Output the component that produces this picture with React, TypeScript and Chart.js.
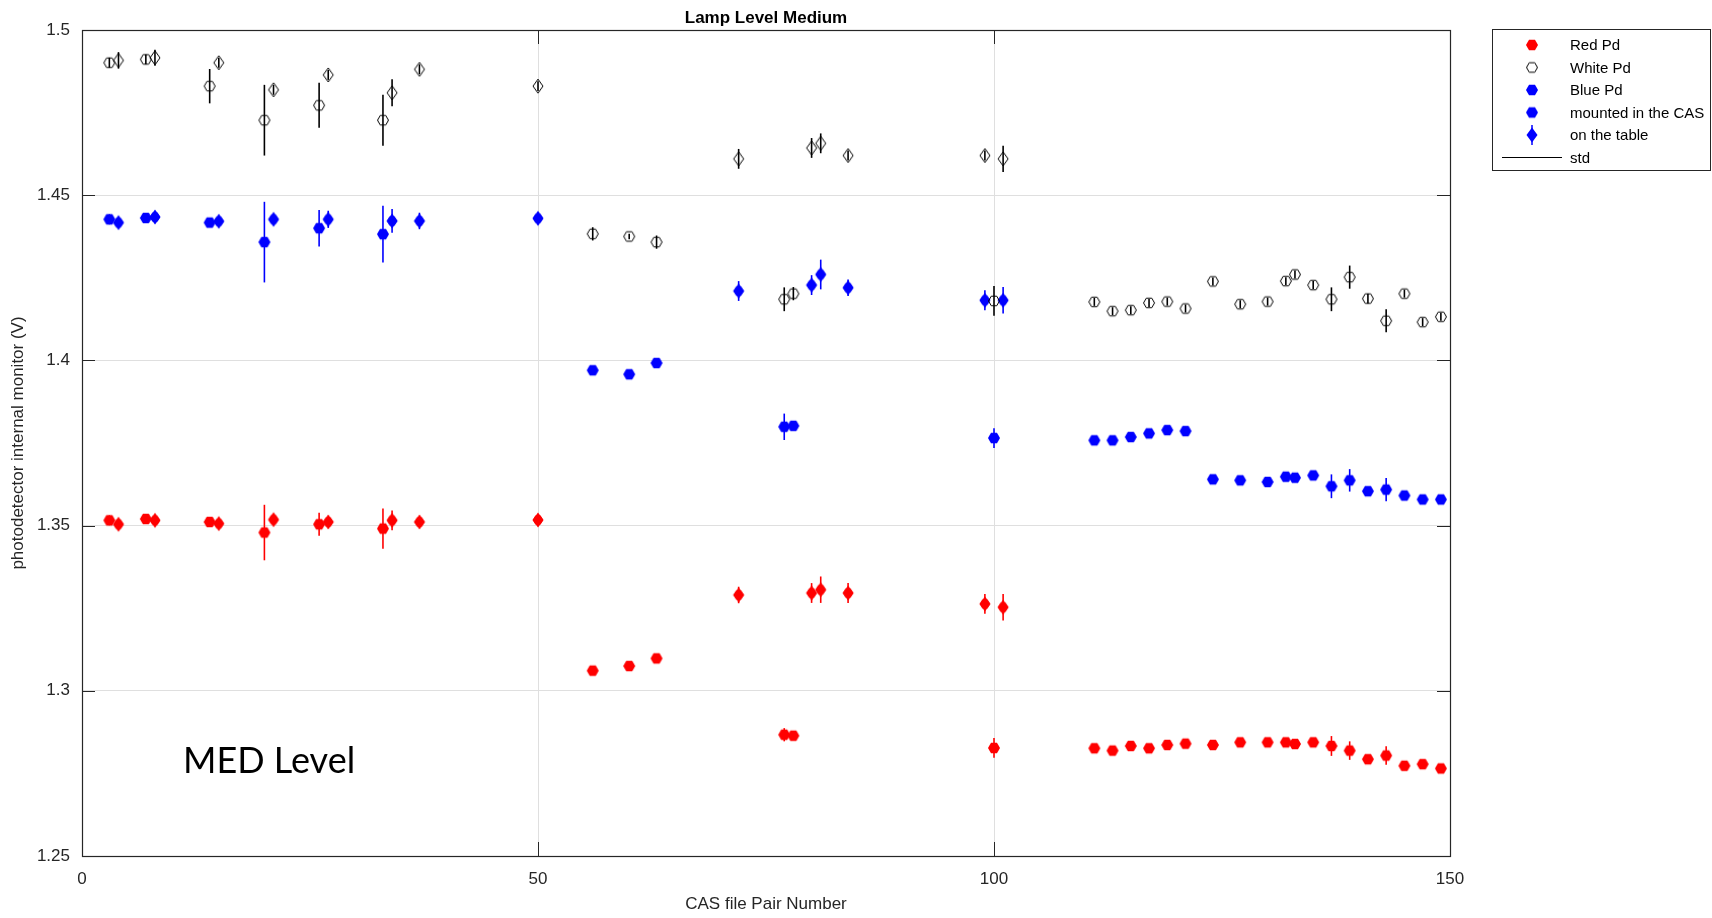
import React, { useEffect, useRef } from 'react';
import { Chart, registerables } from 'chart.js';

Chart.register(...registerables);

// ---------------- data ----------------
const pairNumbers = [
  3, 4, 7, 8, 14, 15, 20, 21, 26, 27, 33, 34, 37, 50, 56, 60, 63, 72, 77, 78, 80, 81, 84, 99, 100, 101,
  111, 113, 115, 117, 119, 121, 124, 127, 130, 132, 133, 135, 137, 139, 141, 143, 145, 147, 149,
];
const mountModes = [
  'CAS', 'table', 'CAS', 'table', 'CAS', 'table', 'CAS', 'table', 'CAS', 'table', 'CAS', 'table', 'table', 'table',
  'CAS', 'CAS', 'CAS', 'table', 'CAS', 'CAS', 'table', 'table', 'table', 'table', 'CAS', 'table',
  'CAS', 'CAS', 'CAS', 'CAS', 'CAS', 'CAS', 'CAS', 'CAS', 'CAS', 'CAS', 'CAS', 'CAS', 'CAS', 'CAS', 'CAS', 'CAS', 'CAS', 'CAS', 'CAS',
];
const redPd = [
  1.3516, 1.3504, 1.352, 1.3516, 1.3511, 1.3506, 1.3479, 1.3518, 1.3504, 1.3511, 1.3491, 1.3516, 1.3511, 1.3517,
  1.3061, 1.3075, 1.3098, 1.329, 1.2867, 1.2864, 1.3296, 1.3306, 1.3296, 1.3263, 1.2827, 1.3253,
  1.2826, 1.2819, 1.2833, 1.2826, 1.2836, 1.284, 1.2836, 1.2844, 1.2844, 1.2844, 1.2839, 1.2844, 1.2833, 1.2819,
  1.2793, 1.2804, 1.2773, 1.2778, 1.2765,
];
const redStd = [
  0.0015, 0.0015, 0.0015, 0.0015, 0.0012, 0.0012, 0.0084, 0.0015, 0.0035, 0.0015, 0.0061, 0.003, 0.0015, 0.0012,
  0.0008, 0.0008, 0.0008, 0.0025, 0.002, 0.0012, 0.003, 0.004, 0.003, 0.003, 0.003, 0.004,
  0.001, 0.001, 0.001, 0.001, 0.001, 0.001, 0.001, 0.001, 0.001, 0.001, 0.001, 0.001, 0.003, 0.0028,
  0.0012, 0.0028, 0.001, 0.001, 0.001,
];
const whitePd = [
  1.4901, 1.4908, 1.4911, 1.4916, 1.483, 1.4901, 1.4727, 1.4819, 1.4772, 1.4864, 1.4727, 1.481, 1.4881, 1.483,
  1.4383, 1.4375, 1.4358, 1.461, 1.4185, 1.4202, 1.4643, 1.4657, 1.462, 1.462, 1.418, 1.461,
  1.4177, 1.4149, 1.4152, 1.4174, 1.4178, 1.4157, 1.4239, 1.417, 1.4178, 1.424, 1.426, 1.4228, 1.4185, 1.4252,
  1.4187, 1.412, 1.4202, 1.4116, 1.4132,
];
const whiteStd = [
  0.0015, 0.0025, 0.0015, 0.0024, 0.0052, 0.0015, 0.0107, 0.0015, 0.0068, 0.0015, 0.0077, 0.0041, 0.0015, 0.0015,
  0.002, 0.0008, 0.002, 0.003, 0.0036, 0.002, 0.003, 0.003, 0.0015, 0.0015, 0.0045, 0.004,
  0.0012, 0.0012, 0.0012, 0.0012, 0.0012, 0.0012, 0.0012, 0.0012, 0.0012, 0.0012, 0.0012, 0.0012, 0.0036, 0.0035,
  0.0015, 0.0035, 0.0012, 0.0012, 0.0012,
];
const bluePd = [
  1.4427, 1.4417, 1.4431, 1.4434, 1.4417, 1.4421, 1.4358, 1.4427, 1.44, 1.4427, 1.4382, 1.4422, 1.4422, 1.443,
  1.397, 1.3958, 1.3992, 1.421, 1.3799, 1.3802, 1.4228, 1.426, 1.422, 1.4182, 1.3765, 1.4182,
  1.3758, 1.3758, 1.3768, 1.3779, 1.3789, 1.3786, 1.364, 1.3637, 1.3632, 1.3648, 1.3645, 1.3652, 1.3619, 1.3637,
  1.3604, 1.3609, 1.3591, 1.3579, 1.3579,
];
const blueStd = [
  0.0015, 0.0015, 0.0015, 0.0015, 0.0012, 0.0012, 0.0122, 0.0015, 0.0055, 0.0026, 0.0086, 0.0036, 0.0025, 0.0018,
  0.001, 0.001, 0.001, 0.003, 0.004, 0.0012, 0.003, 0.0045, 0.0025, 0.003, 0.003, 0.004,
  0.001, 0.001, 0.001, 0.001, 0.001, 0.001, 0.001, 0.001, 0.001, 0.001, 0.001, 0.001, 0.0036, 0.0034,
  0.0012, 0.0035, 0.001, 0.001, 0.001,
];
const xTickValues = [0, 50, 100, 150];
const yTickValues = [1.25, 1.3, 1.35, 1.4, 1.45, 1.5];
const legendLabels = ['Red Pd', 'White Pd', 'Blue Pd', 'mounted in the CAS', 'on the table', 'std'];
const chartTitle = 'Lamp Level Medium';
const xAxisTitle = 'CAS file Pair Number';
const yAxisTitle = 'photodetector internal monitor (V)';
const annotationText = 'MED Level';

// ---------------- styling ----------------
const FONT = '"Liberation Sans", Arial, Helvetica, sans-serif';
const AXIS_COLOR = '#262626';
const GRID_COLOR = '#dfdfdf';
const RED = '#ff0000';
const BLUE = '#0000ff';

type Kind = 'hex' | 'hexdiamond' | 'diamond' | 'diamondWhisker';

function makeMarker(kind: Kind, fill: string | null, stroke: string | null): HTMLCanvasElement {
  const w = 16;
  const h = 20;
  const c = document.createElement('canvas');
  c.width = w;
  c.height = h;
  const ctx = c.getContext('2d') as CanvasRenderingContext2D;
  const cx = w / 2;
  const cy = h / 2;
  const hexPath = (r: number) => {
    ctx.beginPath();
    for (let i = 0; i < 6; i++) {
      const a = (i * Math.PI) / 3;
      const x = cx + r * Math.cos(a);
      const y = cy + r * Math.sin(a);
      if (i === 0) ctx.moveTo(x, y);
      else ctx.lineTo(x, y);
    }
    ctx.closePath();
  };
  const diamondPath = (hw: number, hh: number) => {
    ctx.beginPath();
    ctx.moveTo(cx, cy - hh);
    ctx.lineTo(cx + hw, cy);
    ctx.lineTo(cx, cy + hh);
    ctx.lineTo(cx - hw, cy);
    ctx.closePath();
  };
  const paint = () => {
    if (fill) {
      ctx.fillStyle = fill;
      ctx.fill();
    }
    if (stroke) {
      ctx.strokeStyle = stroke;
      ctx.lineWidth = 1;
      ctx.stroke();
    }
  };
  if (kind === 'hex') {
    hexPath(fill ? 6 : 5.5);
    paint();
  } else if (kind === 'hexdiamond') {
    hexPath(5.3);
    paint();
    diamondPath(5.5, 7.5);
    paint();
  } else if (kind === 'diamond') {
    diamondPath(5, 7);
    paint();
  } else {
    diamondPath(5.5, 7.5);
    paint();
    ctx.strokeStyle = fill || '#000';
    ctx.lineWidth = 1.5;
    ctx.beginPath();
    ctx.moveTo(cx, 0);
    ctx.lineTo(cx, h);
    ctx.stroke();
  }
  return c;
}

function pointsFor(values: number[], mode: string) {
  const out: { x: number; y: number }[] = [];
  pairNumbers.forEach((p, i) => {
    if (mountModes[i] === mode) out.push({ x: p, y: values[i] });
  });
  return out;
}
function errorsFor(errs: number[], mode: string) {
  const out: number[] = [];
  pairNumbers.forEach((_p, i) => {
    if (mountModes[i] === mode) out.push(errs[i]);
  });
  return out;
}

const errorBarPlugin = {
  id: 'errorBars',
  beforeDatasetsDraw(chart: any) {
    const ctx = chart.ctx as CanvasRenderingContext2D;
    const ys = chart.scales.y;
    chart.data.datasets.forEach((ds: any, i: number) => {
      if (!ds.errorBars) return;
      const meta = chart.getDatasetMeta(i);
      ctx.save();
      ctx.strokeStyle = ds.errorColor;
      ctx.lineWidth = 1.6;
      meta.data.forEach((pt: any, j: number) => {
        const v = ds.data[j].y;
        const e = ds.errorBars[j];
        const y1 = ys.getPixelForValue(v - e);
        const y2 = ys.getPixelForValue(v + e);
        ctx.beginPath();
        ctx.moveTo(pt.x, y1);
        ctx.lineTo(pt.x, y2);
        ctx.stroke();
      });
      ctx.restore();
    });
  },
};

export default function App() {
  const canvasRef = useRef<HTMLCanvasElement | null>(null);

  useEffect(() => {
    if (!canvasRef.current) return;

    const redHex = makeMarker('hex', RED, null);
    const redTable = makeMarker('hexdiamond', RED, null);
    const blueHex = makeMarker('hex', BLUE, null);
    const blueTable = makeMarker('hexdiamond', BLUE, null);
    const whiteHex = makeMarker('hex', null, '#000000');
    const whiteTable = makeMarker('diamond', null, '#000000');
    const legendTable = makeMarker('diamondWhisker', BLUE, null);

    const framePlugin = {
      id: 'frameAndText',
      afterDatasetsDraw(chart: any) {
        const ctx = chart.ctx as CanvasRenderingContext2D;
        const { left, right, top, bottom } = chart.chartArea;
        const xs = chart.scales.x;
        const ys = chart.scales.y;
        ctx.save();
        // inner tick marks
        ctx.strokeStyle = AXIS_COLOR;
        ctx.lineWidth = 1;
        ctx.beginPath();
        yTickValues.forEach((v) => {
          const y = Math.round(ys.getPixelForValue(v)) + 0.5;
          ctx.moveTo(left, y);
          ctx.lineTo(left + 13, y);
          ctx.moveTo(right, y);
          ctx.lineTo(right - 13, y);
        });
        xTickValues.forEach((v) => {
          const x = Math.round(xs.getPixelForValue(v)) + 0.5;
          ctx.moveTo(x, bottom);
          ctx.lineTo(x, bottom - 14);
          ctx.moveTo(x, top);
          ctx.lineTo(x, top + 14);
        });
        ctx.stroke();
        // axes box
        ctx.lineWidth = 1.2;
        ctx.strokeRect(Math.round(left) + 0.5, Math.round(top) + 0.5, Math.round(right - left), Math.round(bottom - top));

        // title
        ctx.fillStyle = '#000000';
        ctx.font = `bold 17px ${FONT}`;
        ctx.textAlign = 'center';
        ctx.textBaseline = 'middle';
        ctx.fillText(chartTitle, (left + right) / 2, 18.5);

        // annotation
        ctx.font = '36px Lato, "Open Sans", sans-serif';
        ctx.textAlign = 'left';
        ctx.textBaseline = 'alphabetic';
        ctx.fillText(annotationText, 183, 773);

        // legend box
        const bx = 1492.5;
        const by = 29.5;
        ctx.fillStyle = '#ffffff';
        ctx.fillRect(bx, by, 218, 141);
        ctx.strokeStyle = AXIS_COLOR;
        ctx.lineWidth = 1;
        ctx.strokeRect(bx, by, 218, 141);
        const rowsY = [45, 67.5, 90, 112.5, 135, 157.5];
        const markers = [redHex, whiteHex, blueHex, blueHex, legendTable, null];
        ctx.font = `15px ${FONT}`;
        ctx.textAlign = 'left';
        ctx.textBaseline = 'middle';
        legendLabels.forEach((label, i) => {
          const y = rowsY[i];
          const m = markers[i];
          if (m) {
            ctx.drawImage(m, 1532 - m.width / 2, y - m.height / 2);
          } else {
            ctx.strokeStyle = '#000000';
            ctx.lineWidth = 1.2;
            ctx.beginPath();
            ctx.moveTo(1502, y);
            ctx.lineTo(1562, y);
            ctx.stroke();
          }
          ctx.fillStyle = '#000000';
          ctx.fillText(label, 1570, y + 1);
        });
        ctx.restore();
      },
    };

    const datasets: any[] = [
      {
        label: 'Red Pd (CAS)',
        data: pointsFor(redPd, 'CAS'),
        errorBars: errorsFor(redStd, 'CAS'),
        errorColor: RED,
        pointStyle: redHex,
      },
      {
        label: 'Red Pd (table)',
        data: pointsFor(redPd, 'table'),
        errorBars: errorsFor(redStd, 'table'),
        errorColor: RED,
        pointStyle: redTable,
      },
      {
        label: 'White Pd (CAS)',
        data: pointsFor(whitePd, 'CAS'),
        errorBars: errorsFor(whiteStd, 'CAS'),
        errorColor: '#000000',
        pointStyle: whiteHex,
      },
      {
        label: 'White Pd (table)',
        data: pointsFor(whitePd, 'table'),
        errorBars: errorsFor(whiteStd, 'table'),
        errorColor: '#000000',
        pointStyle: whiteTable,
      },
      {
        label: 'Blue Pd (CAS)',
        data: pointsFor(bluePd, 'CAS'),
        errorBars: errorsFor(blueStd, 'CAS'),
        errorColor: BLUE,
        pointStyle: blueHex,
      },
      {
        label: 'Blue Pd (table)',
        data: pointsFor(bluePd, 'table'),
        errorBars: errorsFor(blueStd, 'table'),
        errorColor: BLUE,
        pointStyle: blueTable,
      },
    ].map((d) => ({ ...d, showLine: false, pointRadius: 6, borderWidth: 0 }));

    const chart = new Chart(canvasRef.current, {
      type: 'scatter',
      data: { datasets },
      options: {
        responsive: false,
        animation: false,
        devicePixelRatio: 1,
        events: [],
        layout: { padding: { left: 0, top: 30, right: 262, bottom: 0 } },
        plugins: {
          legend: { display: false },
          tooltip: { enabled: false },
          title: { display: false },
        },
        scales: {
          x: {
            type: 'linear',
            min: 0,
            max: 150,
            afterFit: (s: any) => {
              s.height = 62;
            },
            afterBuildTicks: (s: any) => {
              s.ticks = xTickValues.map((v) => ({ value: v }));
            },
            ticks: {
              color: AXIS_COLOR,
              font: { family: FONT, size: 17 },
              padding: 13,
              maxRotation: 0,
              autoSkip: false,
            },
            grid: { color: GRID_COLOR, lineWidth: 1, drawTicks: false },
            border: { display: false },
            title: {
              display: true,
              text: xAxisTitle,
              color: AXIS_COLOR,
              font: { family: FONT, size: 17 },
              padding: { top: 0, bottom: 3 },
            },
          },
          y: {
            type: 'linear',
            min: 1.25,
            max: 1.5,
            afterFit: (s: any) => {
              s.width = 82;
            },
            afterBuildTicks: (s: any) => {
              s.ticks = yTickValues.map((v) => ({ value: v }));
            },
            ticks: {
              color: AXIS_COLOR,
              font: { family: FONT, size: 17 },
              padding: 12,
              callback: (v: any) => String(Number(Number(v).toFixed(2))),
            },
            grid: { color: GRID_COLOR, lineWidth: 1, drawTicks: false },
            border: { display: false },
            title: {
              display: true,
              text: yAxisTitle,
              color: AXIS_COLOR,
              font: { family: FONT, size: 17 },
              padding: { top: 8.5, bottom: 0 },
            },
          },
        },
      },
      plugins: [errorBarPlugin, framePlugin],
    } as any);

    return () => {
      chart.destroy();
    };
  }, []);

  return (
    <div style={{ position: 'fixed', left: 0, top: 0, width: 1712, height: 918, background: '#ffffff' }}>
      <canvas ref={canvasRef} width={1712} height={918} style={{ display: 'block' }} />
    </div>
  );
}
